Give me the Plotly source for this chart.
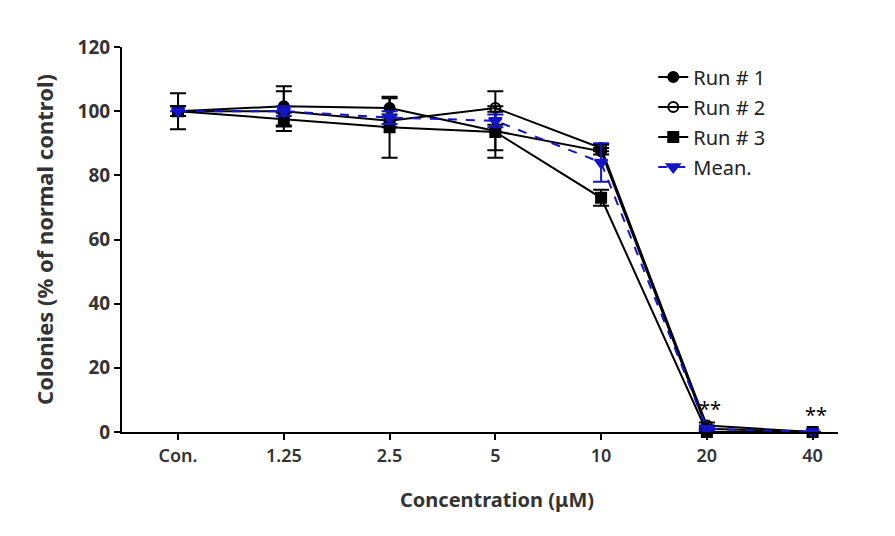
import plotly.graph_objects as go

categories = ["Con.", "1.25", "2.5", "5", "10", "20", "40"]
run1 = [100, 101.5, 101, 93.8, 87.5, 1, 0]
run1_err = [5.6, 6.3, 3, 6, 1, 1, 0]
run2 = [100, 100, 97, 101, 88.5, 2, 0]
run2_err = [1.5, 6.2, 2, 5.2, 1, 1, 0]
run3 = [100, 97.5, 95, 93.5, 73, 0, 0]
run3_err = [1.5, 2, 9.5, 8, 2.5, 0.5, 0]
mean = [100, 100, 98, 97, 84, 1, 0]
mean_err = [0, 1.5, 2, 2, 6, 0.5, 0]
sig_labels = ["", "", "", "", "", "**", "**"]

xpos = list(range(len(categories)))
BLUE = "#1414c8"
FONT = "Noto Sans"

fig = go.Figure()

def run_trace(name, y, err, symbol, color="black", dash="solid", size=10, lw=2):
    return go.Scatter(
        x=xpos, y=y, name=name, legendgroup=name, mode="lines+markers",
        line=dict(color=color, width=lw, dash=dash),
        marker=dict(symbol=symbol, size=size, color=color,
                    line=dict(color=color, width=2)),
        error_y=dict(type="data", array=err, visible=True,
                     color=color, thickness=2, width=8),
        cliponaxis=False,
    )

fig.add_trace(run_trace("Run # 1", run1, run1_err, "circle"))
fig.add_trace(run_trace("Run # 2", run2, run2_err, "circle-open"))
fig.add_trace(run_trace("Run # 3", run3, run3_err, "square"))
fig.add_trace(run_trace("Mean.", mean, mean_err, "triangle-down", color=BLUE, dash="dash", size=11))

for xi, lab in zip(xpos, sig_labels):
    if lab:
        fig.add_annotation(x=xi, y=max(run1[xi], run2[xi], run3[xi]), text=lab,
                           showarrow=False, yanchor="bottom", yshift=2, xshift=3,
                           font=dict(family=FONT, size=20, color="black"))

# x-axis title as annotation (slightly right of plot centre, as in the reference)
fig.add_annotation(xref="paper", yref="paper", x=0.524, y=-0.175, xanchor="center", yanchor="middle",
                   text="Concentration (μM)", showarrow=False,
                   font=dict(family=FONT, size=20, color="#333333", weight="bold"))

fig.update_layout(
    width=895, height=536,
    paper_bgcolor="white", plot_bgcolor="white",
    margin=dict(l=114, r=65, t=39, b=112),
    font=dict(family=FONT, color="#333333"),
    showlegend=True,
    legend=dict(x=0.742, y=0.973, xanchor="left", yanchor="top",
                font=dict(family=FONT, size=20, color="#222222"),
                bgcolor="rgba(0,0,0,0)", tracegroupgap=1),
    xaxis=dict(
        range=[-0.53, 6.24], tickmode="array", tickvals=xpos, ticktext=categories,
        showline=True, linecolor="black", linewidth=2, showgrid=False, zeroline=False,
        ticks="outside", ticklen=6, tickwidth=2, tickcolor="black",
        tickfont=dict(family=FONT, size=18, color="#333333", weight=600),
    ),
    yaxis=dict(
        range=[0, 120], tickvals=[0, 20, 40, 60, 80, 100, 120],
        showline=True, linecolor="black", linewidth=2, showgrid=False, zeroline=False,
        ticks="outside", ticklen=6, tickwidth=2, tickcolor="black",
        tickfont=dict(family=FONT, size=19, color="#333333", weight="bold"),
        title=dict(text="Colonies (% of normal control)", font=dict(family=FONT, size=22, color="#333333", weight="bold"),
                   standoff=18),
    ),
)

fig.write_html("out.html")
